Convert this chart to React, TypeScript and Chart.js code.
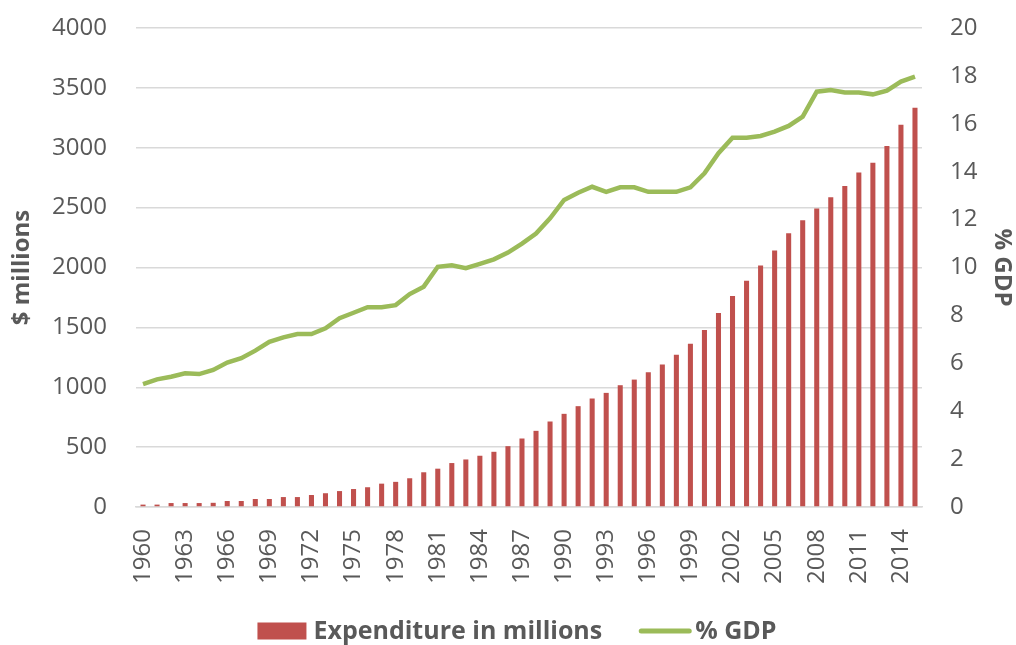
import React, { useEffect, useRef } from "react";
import { Chart, registerables } from "chart.js";

Chart.register(...registerables);

const years: string[] = [
  "1960", "1961", "1962", "1963", "1964", "1965", "1966", "1967", "1968", "1969",
  "1970", "1971", "1972", "1973", "1974", "1975", "1976", "1977", "1978", "1979",
  "1980", "1981", "1982", "1983", "1984", "1985", "1986", "1987", "1988", "1989",
  "1990", "1991", "1992", "1993", "1994", "1995", "1996", "1997", "1998", "1999",
  "2000", "2001", "2002", "2003", "2004", "2005", "2006", "2007", "2008", "2009",
  "2010", "2011", "2012", "2013", "2014", "2015",
];

const expenditure: number[] = [
  20, 20, 33, 33, 33, 35, 50, 50, 67, 67,
  83, 83, 100, 115, 133, 150, 165, 195, 210, 240,
  290, 320, 367, 397, 428, 461, 508, 572, 636, 714,
  778, 842, 906, 953, 1017, 1064, 1125, 1190, 1271, 1364,
  1478, 1620, 1761, 1889, 2017, 2142, 2286, 2394, 2492, 2586,
  2681, 2794, 2875, 3014, 3192, 3333,
];

const gdpPercent: number[] = [
  5.13, 5.33, 5.44, 5.58, 5.55, 5.72, 6.03, 6.21, 6.53, 6.9,
  7.08, 7.22, 7.22, 7.46, 7.88, 8.11, 8.34, 8.34, 8.43, 8.89,
  9.2, 10.03, 10.09, 9.97, 10.15, 10.34, 10.62, 11.0, 11.42, 12.05,
  12.82, 13.12, 13.37, 13.16, 13.35, 13.35, 13.16, 13.16, 13.16, 13.35,
  13.93, 14.77, 15.42, 15.42, 15.49, 15.67, 15.91, 16.3, 17.34, 17.41,
  17.31, 17.31, 17.23, 17.38, 17.76, 17.97,
];

const FONT = "'Open Sans', 'DejaVu Sans', sans-serif";
const TEXT = "#595959";
const GRID = "#d9d9d9";

const legendPlugin = {
  id: "customLegend",
  afterDraw(chart: any) {
    const ctx = chart.ctx as CanvasRenderingContext2D;
    ctx.save();
    ctx.font = `bold 25px ${FONT}`;
    const items = chart.data.datasets.map((ds: any) => ({
      label: ds.label as string,
      isLine: ds.type === "line",
      color: ds.type === "line" ? ds.borderColor : ds.backgroundColor,
    }));
    const markerW = (it: any) => (it.isLine ? 52 : 49);
    const markerGap = (it: any) => (it.isLine ? 4 : 7);
    const itemGap = 37;
    let total = 0;
    items.forEach((it: any, i: number) => {
      total += markerW(it) + markerGap(it) + ctx.measureText(it.label).width;
      if (i < items.length - 1) total += itemGap;
    });
    const cy = 631;
    let x = 517 - total / 2;
    items.forEach((it: any) => {
      if (it.isLine) {
        ctx.strokeStyle = it.color;
        ctx.lineWidth = 5;
        ctx.lineCap = "round";
        ctx.beginPath();
        ctx.moveTo(x + 2, cy);
        ctx.lineTo(x + markerW(it) - 2, cy);
        ctx.stroke();
      } else {
        ctx.fillStyle = it.color;
        ctx.fillRect(x, cy - 8.5, markerW(it), 17);
      }
      x += markerW(it) + markerGap(it);
      ctx.fillStyle = TEXT;
      ctx.textBaseline = "middle";
      ctx.textAlign = "left";
      ctx.fillText(it.label, x, cy + 1);
      x += ctx.measureText(it.label).width + itemGap;
    });
    ctx.restore();
  },
};

export default function App() {
  const ref = useRef<HTMLCanvasElement | null>(null);

  useEffect(() => {
    document.body.style.margin = "0";
    const canvas = ref.current;
    if (!canvas) return;
    const chart = new Chart(canvas, {
      type: "bar",
      data: {
        labels: years,
        datasets: [
          {
            type: "bar",
            label: "Expenditure in millions",
            data: expenditure,
            backgroundColor: "#c0504d",
            borderWidth: 0,
            yAxisID: "y",
            categoryPercentage: 1,
            barPercentage: 0.36,
          } as any,
          {
            type: "line",
            label: "% GDP",
            data: gdpPercent,
            borderColor: "#9bbb59",
            backgroundColor: "#9bbb59",
            borderWidth: 4.5,
            pointRadius: 0,
            pointHoverRadius: 0,
            tension: 0,
            yAxisID: "y1",
          } as any,
        ],
      },
      plugins: [legendPlugin],
      options: {
        responsive: false,
        animation: false,
        layout: { padding: { left: 0, right: 0, top: 28, bottom: 40 } },
        plugins: {
          tooltip: { enabled: false },
          legend: { display: false },
        },
        scales: {
          x: {
            grid: { display: false, drawTicks: false },
            border: { display: true, color: GRID, width: 1.5 },
            afterFit: (s: any) => {
              s.height = 98;
              s.paddingLeft = 0;
              s.paddingRight = 0;
            },
            ticks: {
              autoSkip: false,
              maxRotation: 90,
              minRotation: 90,
              padding: 22,
              color: TEXT,
              font: { family: FONT, size: 24 },
              callback: function (this: any, val: any, idx: number) {
                return idx % 3 === 0 ? years[idx] : "";
              },
            },
          },
          y: {
            position: "left",
            min: 0,
            max: 4000,
            afterFit: (s: any) => {
              s.width = 136;
              s.paddingTop = 0;
              s.paddingBottom = 0;
            },
            grid: { color: GRID, lineWidth: 1.5, drawTicks: false },
            border: { display: false },
            ticks: {
              stepSize: 500,
              padding: 29,
              color: TEXT,
              font: { family: FONT, size: 24 },
              callback: (v: any) => String(v),
            },
            title: {
              display: true,
              text: "$ millions",
              color: TEXT,
              font: { family: FONT, size: 24, weight: "bold" },
              padding: { top: 8, bottom: 0 },
            },
          },
          y1: {
            position: "right",
            min: 0,
            max: 20,
            afterFit: (s: any) => {
              s.width = 94;
              s.paddingTop = 0;
              s.paddingBottom = 0;
            },
            grid: { drawOnChartArea: false, drawTicks: false },
            border: { display: false },
            ticks: {
              stepSize: 2,
              padding: 28,
              color: TEXT,
              font: { family: FONT, size: 24 },
              callback: (v: any) => String(v),
            },
            title: {
              display: true,
              text: "% GDP",
              color: TEXT,
              font: { family: FONT, size: 24, weight: "bold" },
              padding: { top: 0, bottom: 0 },
            },
          },
        },
      },
    });
    return () => chart.destroy();
  }, []);

  return (
    <div style={{ position: "fixed", left: 0, top: 0, width: 1016, height: 645, background: "#ffffff" }}>
      <canvas ref={ref} width={1016} height={645} style={{ display: "block" }} />
    </div>
  );
}
